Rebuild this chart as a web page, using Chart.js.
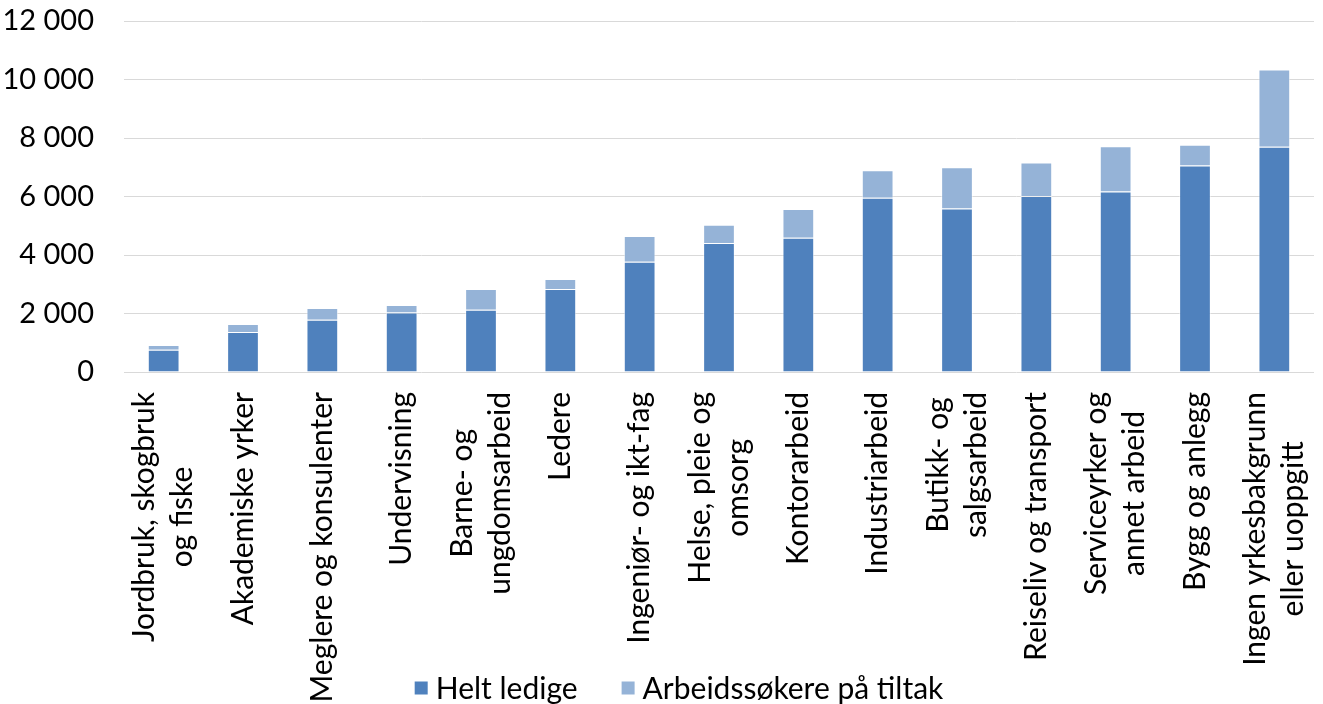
<!DOCTYPE html>
<html>
<head>
<meta charset="utf-8">
<script src="https://cdn.jsdelivr.net/npm/chart.js@4/dist/chart.umd.min.js"></script>
<style>
  html, body { margin: 0; padding: 0; background: #fff; }
  #wrap { width: 1323px; height: 704px; }
</style>
</head>
<body>
<div id="wrap"><canvas id="chart" width="1323" height="704"></canvas></div>
<script>
// categories (multi-line labels as arrays)
var categories = [
	['Jordbruk, skogbruk', 'og fiske'],
	'Akademiske yrker',
	'Meglere og konsulenter',
	'Undervisning',
	['Barne- og', 'ungdomsarbeid'],
	'Ledere',
	'Ingeniør- og ikt-fag',
	['Helse, pleie og', 'omsorg'],
	'Kontorarbeid',
	'Industriarbeid',
	['Butikk- og', 'salgsarbeid'],
	'Reiseliv og transport',
	['Serviceyrker og', 'annet arbeid'],
	'Bygg og anlegg',
	['Ingen yrkesbakgrunn', 'eller uoppgitt']
];

var heltLedige = [760, 1370, 1790, 2030, 2130, 2840, 3770, 4410, 4590, 5960, 5590, 6020, 6170, 7060, 7700];
var paaTiltak  = [160, 270, 400, 260, 710, 340, 880, 620, 980, 940, 1410, 1140, 1550, 710, 2640];

var seriesNames = ['Helt ledige', 'Arbeidssøkere på tiltak'];
var yTicks = [0, 2000, 4000, 6000, 8000, 10000, 12000];

var FONT = 'Lato, "Open Sans", sans-serif';

function fmt(v) {
	return String(v).replace(/\B(?=(\d{3})+(?!\d))/g, ' ');
}

// draws the rotated x labels, lines centred on each other like Excel does
var xLabelPlugin = {
	id: 'xLabels',
	afterDraw: function(chart) {
		var ctx = chart.ctx;
		var xs = chart.scales.x;
		var lineH = 38;
		ctx.save();
		ctx.font = '30px ' + FONT;
		ctx.fillStyle = '#000';
		ctx.textAlign = 'right';
		ctx.textBaseline = 'middle';
		chart.data.labels.forEach(function(lbl, i) {
			var lines = [].concat(lbl);
			var widths = lines.map(function(l) { return ctx.measureText(l).width; });
			var maxW = Math.max.apply(null, widths);
			var x = xs.getPixelForValue(i);
			ctx.save();
			ctx.translate(x, xs.top + 20);
			ctx.rotate(-Math.PI / 2);
			lines.forEach(function(l, j) {
				var off = (j - (lines.length - 1) / 2) * lineH;
				ctx.fillText(l, -(maxW - widths[j]) / 2, off);
			});
			ctx.restore();
		});
		ctx.restore();
	}
};

// legend drawn over the bottom strip (Excel lets it overlap the label area)
var legendPlugin = {
	id: 'bottomLegend',
	afterDraw: function(chart) {
		var ctx = chart.ctx;
		var box = 13, gapBox = 8, gapItem = 44;
		var cy = 688;
		ctx.save();
		ctx.font = '30px ' + FONT;
		ctx.textBaseline = 'middle';
		ctx.textAlign = 'left';
		var items = chart.data.datasets.map(function(ds) {
			return { text: ds.label, color: ds.backgroundColor, w: ctx.measureText(ds.label).width };
		});
		var total = 0;
		items.forEach(function(it, i) {
			total += box + gapBox + it.w + (i > 0 ? gapItem : 0);
		});
		var x = 679 - total / 2;
		items.forEach(function(it) {
			ctx.fillStyle = it.color;
			ctx.fillRect(x, cy - box / 2, box, box);
			ctx.fillStyle = '#000';
			ctx.fillText(it.text, x + box + gapBox, cy + 1);
			x += box + gapBox + it.w + gapItem;
		});
		ctx.restore();
	}
};

var config = {
	type: 'bar',
	data: {
		labels: categories,
		datasets: [{
			label: seriesNames[0],
			data: heltLedige,
			backgroundColor: '#4F81BD',
			borderColor: 'rgba(255,255,255,0.55)',
			borderWidth: 1
		}, {
			label: seriesNames[1],
			data: paaTiltak,
			backgroundColor: '#95B3D7',
			borderColor: 'rgba(255,255,255,0.55)',
			borderWidth: 1
		}]
	},
	options: {
		responsive: false,
		animation: false,
		devicePixelRatio: 1,
		layout: { padding: { top: 21, right: 9, bottom: 0, left: 0 } },
		datasets: {
			bar: { categoryPercentage: 1, barPercentage: 0.4 }
		},
		scales: {
			x: {
				stacked: true,
				grid: { display: false },
				border: { display: false },
				ticks: { display: false },
				afterFit: function(scale) { scale.height = 332; }
			},
			y: {
				stacked: true,
				min: 0,
				max: 12000,
				afterBuildTicks: function(scale) {
					scale.ticks = yTicks.map(function(v) { return { value: v }; });
				},
				grid: { color: '#d9d9d9', lineWidth: 1, drawTicks: false },
				border: { display: false },
				ticks: {
					padding: 30,
					color: '#000',
					font: { family: FONT, size: 29 },
					callback: function(v) { return fmt(v); }
				},
				afterFit: function(scale) {
					scale.width = 124;
					scale.paddingTop = 0;
					scale.paddingBottom = 0;
				}
			}
		},
		plugins: {
			legend: { display: false },
			tooltip: { enabled: false }
		}
	},
	plugins: [xLabelPlugin, legendPlugin]
};

new Chart(document.getElementById('chart').getContext('2d'), config);
</script>
</body>
</html>
